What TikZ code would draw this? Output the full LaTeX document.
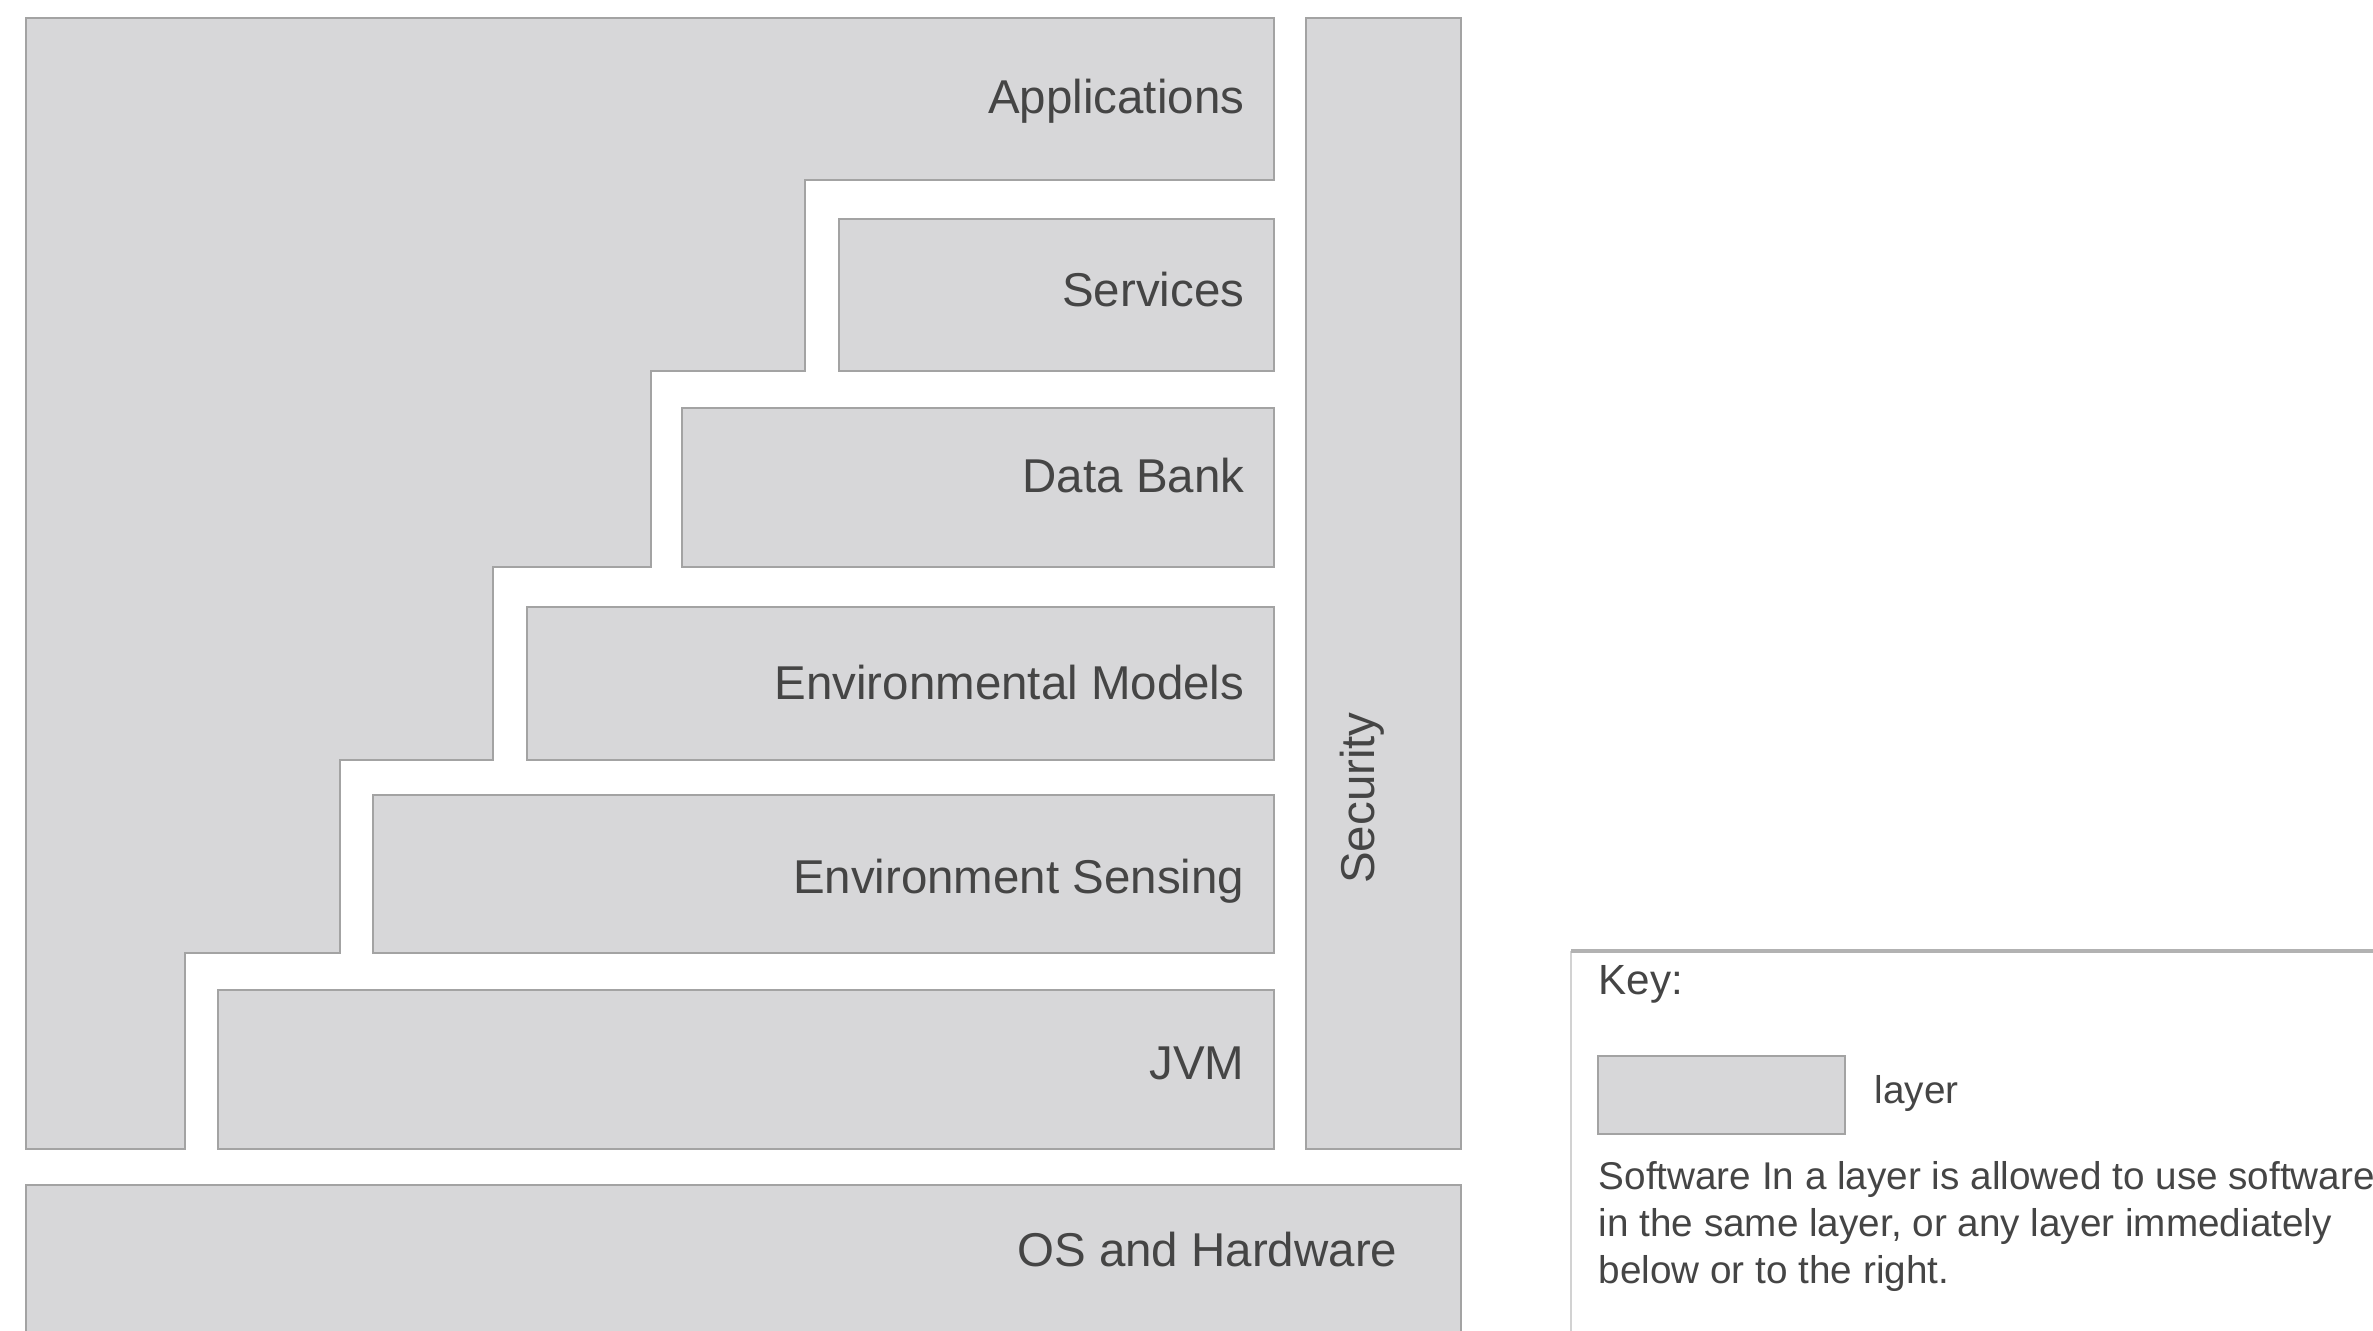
\documentclass[tikz,border=0pt]{standalone}
\usepackage{fontspec}
\setmainfont{Liberation Sans}
\definecolor{layerfill}{HTML}{D7D7D9}
\definecolor{layerline}{HTML}{A3A3A3}
\definecolor{labeltext}{HTML}{454545}

\begin{document}
\begin{tikzpicture}[x=0.01cm,y=-0.01cm,
  layer/.style={fill=layerfill,draw=layerline,line width=0.8pt},
  lbl/.style={text=labeltext,font=\fontsize{13.5}{16}\selectfont,inner sep=0pt},
  keytxt/.style={text=labeltext,font=\fontsize{11}{13.4}\selectfont,inner sep=0pt,anchor=west}]
  \useasboundingbox (0,0) rectangle (2373,1331);
  % staircase block for the applications
  \draw[layer] (26,18) -- (1274,18) -- (1274,180) -- (805,180) -- (805,371) -- (651,371) -- (651,567)
    -- (493,567) -- (493,760) -- (340,760) -- (340,953) -- (185,953) -- (185,1149) -- (26,1149) -- cycle;
  \node[lbl,anchor=east] (apps) at (1245,101) {Applications};
  \foreach \nm/\lx/\ty/\by/\ly/\txt in {serv/839/219/371/290/Services, data/682/408/567/476/Data Bank,
      models/527/607/760/683/Environmental Models, sensing/373/795/953/881/Environment Sensing,
      jvm/218/990/1149/1063/JVM} {
    \draw[layer] (\lx,\ty) rectangle (1274,\by);
    \node[lbl,anchor=east] (\nm) at (1245,\ly) {\txt};
  }
  % security column
  \draw[layer] (1306,18) rectangle (1461,1149);
  \node[lbl,rotate=90] (sec) at (1362,798) {Security};
  % os and hardware, runs off the bottom
  \fill[layerfill] (26,1185) rectangle (1461,1331);
  \draw[layerline,line width=0.8pt] (26,1331) -- (26,1185) -- (1461,1185) -- (1461,1331);
  \node[lbl,anchor=east] (os) at (1398,1250) {OS and Hardware};

  % key
  \draw[gray!35,line width=0.6pt] (1571,1331) -- (1571,951);
  \draw[gray!60,line width=1.1pt] (1571,951) -- (2373,951);
  \node[keytxt,font=\fontsize{12}{14}\selectfont] (key) at (1598,984) {Key:};
  \draw[layer] (1598,1056) rectangle (1845,1134);
  \node[keytxt] (keylayer) at (1874,1093) {layer};
  \foreach \i/\y/\t in {1/1179/Software In a layer is allowed to use software,
      2/1226/{in the same layer, or any layer immediately}, 3/1273/below or to the right.}
    \node[keytxt] (rule\i) at (1598,\y) {\t};
\end{tikzpicture}
\end{document}
